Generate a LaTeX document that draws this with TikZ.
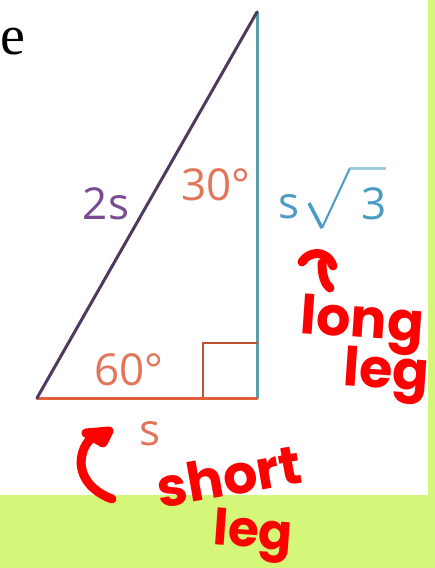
\documentclass[tikz,border=0pt]{standalone}
\usepackage{fontspec}
\setmainfont{Liberation Serif}
\newfontfamily\labfont{Open Sans}
\newfontfamily\handfont{Poppins}
\definecolor{bggreen}{HTML}{D4F77A}
\definecolor{hypcol}{HTML}{4E3A60}
\definecolor{longcol}{HTML}{5C9EAE}
\definecolor{shortcol}{HTML}{E0603C}
\definecolor{purplab}{HTML}{7A4A92}
\definecolor{oranlab}{HTML}{E2765A}
\definecolor{bluelab}{HTML}{4A9CC4}
\definecolor{handred}{HTML}{FF0000}
\begin{document}
\begin{tikzpicture}[x=1pt,y=-1pt,
  lab/.style={inner sep=0pt,font=\labfont\fontsize{44}{44}\selectfont},
  hand/.style={inner sep=0pt,text=handred,font=\handfont\bfseries\fontsize{54}{54}\selectfont},
  handstroke/.style={draw=handred,line width=9pt,line cap=round,line join=round},
  edge/.style={line width=3pt,line cap=round}]
\useasboundingbox (0,0) rectangle (435,568);
\fill[bggreen] (0,0) rectangle (435,568);
\fill[white] (0,0) rectangle (428,495);

\node[inner sep=0pt,font=\fontsize{56}{56}\selectfont] (etext) at (13,42) {e};

\coordinate (T) at (257,12);
\coordinate (A) at (37,398);
\coordinate (C) at (257,398);
\coordinate (R1) at (203,398);
\coordinate (R2) at (203,343);
\coordinate (R3) at (257,343);

\draw[edge,draw=longcol] (T) -- (C);
\draw[edge,draw=shortcol!85!black,line width=2.5pt] (R1) -- (R2) -- (R3);
\draw[edge,draw=shortcol] (A) -- (C);
\draw[edge,draw=hypcol] (A) -- (T);

\node[lab,text=purplab] (twos) at (106,204) {2s};
\node[lab,text=oranlab] (thirty) at (216,185) {30°};
\node[lab,text=bluelab] (slab) at (289,207) {s};
\node[lab,text=bluelab] (three) at (374,204) {3};
\coordinate (rad1) at (309,203);
\coordinate (rad2) at (322,228);
\coordinate (rad3) at (350,168);
\coordinate (rad4) at (386,168);
\draw[draw=bluelab,line width=3.5pt,line join=round] (rad1) -- (rad2);
\draw[draw=bluelab,line width=2pt,line join=round] (rad2) -- (rad3);
\draw[draw=bluelab!55,line width=3pt] (rad3) -- (rad4);
\node[lab,text=oranlab] (sixty) at (129,370) {60°};
\node[lab,text=oranlab] (sbot) at (150,434) {s};

% handwritten notes
\coordinate (la1) at (302,262);
\coordinate (la2) at (333,266);
\coordinate (la3) at (322,263);
\coordinate (la4) at (330,288);
\draw[handstroke] (la1) .. controls (308,252) and (326,248) .. (la2);
\draw[handstroke] (la3) .. controls (322,276) and (325,284) .. (la4);
\node[hand,rotate=-4] (long) at (362,325) {long};
\node[hand,rotate=-4] (legone) at (386,376) {leg};

\coordinate (sa1) at (112,499);
\coordinate (sa2) at (98,433);
\coordinate (sh1) at (86,433);
\coordinate (sh2) at (109,431);
\coordinate (sh3) at (103,443);
\draw[handstroke] (sa1) .. controls (88,490) and (78,472) .. (82,455) .. controls (84,445) and (90,438) .. (sa2);
\draw[handstroke,fill=handred] (sh1) -- (sh2) -- (sh3) -- cycle;
\node[hand,rotate=10] (short) at (229,476) {short};
\node[hand,rotate=-4,font=\handfont\bfseries\fontsize{50}{50}\selectfont] (legtwo) at (253,536) {leg};
\end{tikzpicture}
\end{document}
